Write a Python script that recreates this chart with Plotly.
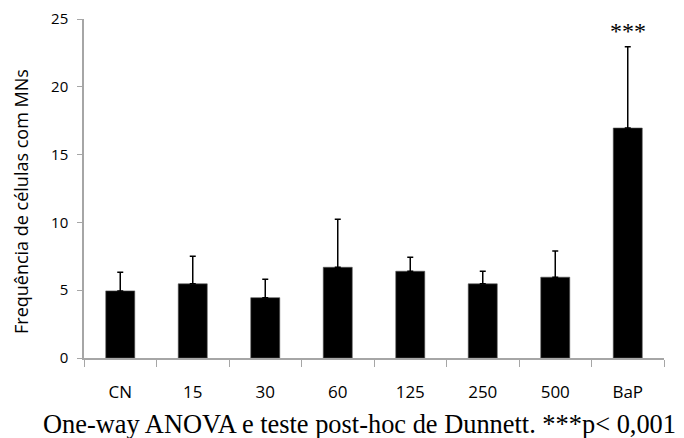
import plotly.graph_objects as go

categories = ["CN", "15", "30", "60", "125", "250", "500", "BaP"]
means = [4.95, 5.47, 4.45, 6.69, 6.40, 5.47, 5.96, 16.96]
errors = [1.38, 2.03, 1.36, 3.55, 1.03, 0.93, 1.94, 6.0]
y_ticks = [0, 5, 10, 15, 20, 25]

sans = "Open Sans"
axis_gray = "#a6a6a6"

fig = go.Figure()
fig.add_trace(go.Bar(
    x=categories, y=means, width=0.4,
    marker=dict(color="black", line=dict(color="#555", width=0.6)),
    error_y=dict(type="data", array=errors, symmetric=False,
                 arrayminus=[0] * len(errors), color="black", thickness=1.5, width=3),
    showlegend=False,
))

fig.add_annotation(x="BaP", y=24.1, text="***", showarrow=False,
                   font=dict(family="Liberation Serif", size=24, color="black"),
                   xref="x", yref="y")
fig.add_annotation(x=(359 - 84) / 580, y=-66 / 339, xref="paper", yref="paper",
                   text="One-way ANOVA e teste post-hoc de Dunnett. ***p< 0,001",
                   showarrow=False, yanchor="middle", xanchor="center",
                   font=dict(family="Liberation Serif", size=26.4, color="black"))
fig.add_annotation(x=(21 - 84) / 580, y=(358 - 202) / 339, xref="paper", yref="paper",
                   text="Frequência de células com MNs", textangle=-90,
                   showarrow=False, xanchor="center", yanchor="middle",
                   font=dict(family=sans, size=18, color="black"))

fig.update_layout(
    width=676, height=430,
    margin=dict(l=76, r=20, t=11, b=80, autoexpand=False),
    plot_bgcolor="white", paper_bgcolor="white",
    bargap=0.6,
    xaxis=dict(showline=True, linecolor=axis_gray, linewidth=1.5, automargin=False,
               ticks="outside", tickson="boundaries", ticklen=7, tickcolor=axis_gray,
               tickfont=dict(family=sans, size=17, color="black"),
               ticklabelstandoff=18, showgrid=False),
    yaxis=dict(range=[0, 25], tickvals=y_ticks, showline=True, linecolor=axis_gray,
               linewidth=1.5, ticks="outside", ticklen=5, tickcolor=axis_gray,
               tickfont=dict(family=sans, size=15, color="black"), automargin=False,
               ticklabelstandoff=6, ticklabeloverflow="allow",
               showgrid=False, zeroline=False),
)

fig.write_html("out.html")
